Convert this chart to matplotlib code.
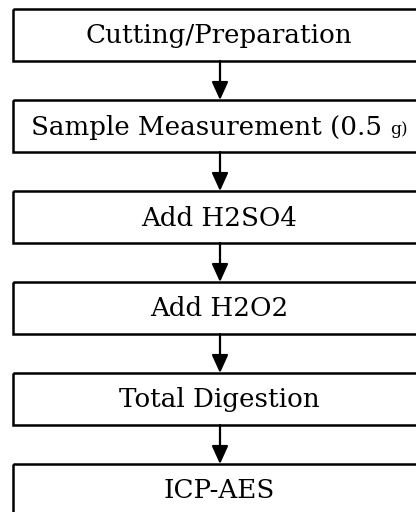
import matplotlib
matplotlib.use("Agg")
import matplotlib.pyplot as plt
from matplotlib.patches import Rectangle
from matplotlib.offsetbox import TextArea, HPacker, AnnotationBbox

# flowchart steps, top to bottom
steps = ["Cutting/Preparation",
         "Sample Measurement (0.5",
         "Add H2SO4",
         "Add H2O2",
         "Total Digestion",
         "ICP-AES"]
small_suffix = {1: "g)"}   # smaller trailing unit text on step 2

W, H = 416, 512
fig = plt.figure(figsize=(W / 100, H / 100), dpi=100)
ax = fig.add_axes([0, 0, 1, 1])
ax.set_xlim(0, W)
ax.set_ylim(H, 0)
ax.axis("off")

font = "DejaVu Serif"
fs = 18.8
left, right = 13, 428
box_h = 52
top0, pitch = 9, 91
cx = 219

for i, label in enumerate(steps):
    top = top0 + i * pitch
    ax.add_patch(Rectangle((left, top), right - left, box_h, fill=False,
                           lw=1.8, ec="black", clip_on=False))
    ym = top + box_h / 2
    if i in small_suffix:
        parts = HPacker(children=[
            TextArea(label, textprops=dict(family=font, size=fs)),
            TextArea(small_suffix[i], textprops=dict(family=font, size=fs * 0.65))],
            align="baseline", pad=0, sep=6)
        ab = AnnotationBbox(parts, (cx, ym + 1), frameon=False,
                            box_alignment=(0.5, 0.5), pad=0)
        ax.add_artist(ab)
    else:
        ax.text(cx, ym + 1, label, family=font, size=fs,
                ha="center", va="center")
    if i < len(steps) - 1:
        nxt = top0 + (i + 1) * pitch
        ax.annotate("", xy=(220, nxt), xytext=(220, top + box_h),
                    arrowprops=dict(arrowstyle="-|>,head_length=1.1,head_width=0.5",
                                    color="black", lw=1.6, shrinkA=0, shrinkB=0,
                                    mutation_scale=10))

fig.savefig("out.png", dpi=100)
